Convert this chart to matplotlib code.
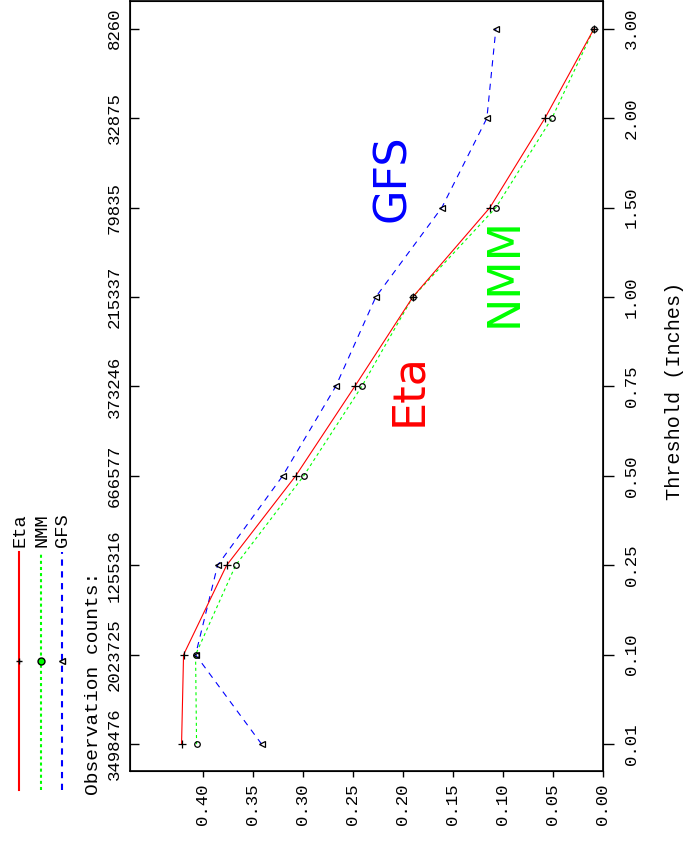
import matplotlib
matplotlib.use('Agg')
from matplotlib import pyplot as plt

plt.rcParams['lines.scale_dashes'] = False

umbrales = ['0.01', '0.10', '0.25', '0.50', '0.75', '1.00', '1.50', '2.00', '3.00']
conteos = ['3498476', '2023725', '1255316', '666577', '373246', '215337', '79835', '32875', '8260']
eta = [0.421, 0.419, 0.376, 0.307, 0.248, 0.190, 0.113, 0.058, 0.009]
nmm = [0.406, 0.407, 0.367, 0.299, 0.241, 0.190, 0.107, 0.051, 0.009]
gfs = [0.341, 0.407, 0.385, 0.320, 0.267, 0.227, 0.161, 0.116, 0.107]
valores_eje = [0.00, 0.05, 0.10, 0.15, 0.20, 0.25, 0.30, 0.35, 0.40]

MONO = 'Liberation Mono'
W, H = 684, 843
posiciones = list(range(len(umbrales)))

fig = plt.figure(figsize=(W / 100, H / 100), dpi=100)
fig.patch.set_facecolor('white')

# grafico girado: el umbral va en vertical y el valor en horizontal (invertido)
ax = fig.add_axes([130 / W, 1 - 771 / H, 473 / W, 770 / H])
ax.plot(eta, posiciones, color='#ff0000', lw=0.8, zorder=3)
ax.plot(nmm, posiciones, color='#00ff00', lw=0.8, ls=(0, (2.2, 2.2)), zorder=2)
ax.plot(gfs, posiciones, color='#0000ff', lw=0.8, ls=(0, (4.5, 4.0)), zorder=2)
ax.plot(eta, posiciones, ls='none', marker='+', ms=6, mew=0.9, color='black', zorder=4)
ax.plot(nmm, posiciones, ls='none', marker='o', ms=4, mew=0.9, mfc='none', mec='black', zorder=4)
ax.plot(gfs, posiciones, ls='none', marker='<', ms=4, mew=0.9, mfc='none', mec='black', zorder=4)

ax.set_xlim(0.4725, 0.0)
ax.set_ylim(-0.3, 8.31)
ax.set_xticks(valores_eje)
ax.set_xticklabels(['%.2f' % v for v in valores_eje], rotation=90, fontfamily=MONO, fontsize=12.5)
ax.tick_params(axis='x', direction='out', length=4.5, width=1, pad=4.3)
ax.set_yticks(posiciones)
ax.set_yticklabels(conteos, rotation=90, va='center', fontfamily=MONO, fontsize=12.5)
ax.tick_params(axis='y', direction='in', length=6.5, width=1, pad=6)
for lado in ax.spines.values():
    lado.set_linewidth(1.2)

ax2 = ax.twinx()
ax2.set_ylim(ax.get_ylim())
ax2.set_yticks(posiciones)
ax2.set_yticklabels(umbrales, rotation=90, va='center', fontfamily=MONO, fontsize=12.5)
ax2.tick_params(axis='y', direction='out', length=8, width=1, pad=7)

# nombres de los modelos junto a sus curvas
ax.text(0.210, 6.33, 'GFS', color='#0000ff', fontsize=32, rotation=90, ha='center', va='center')
ax.text(0.099, 5.28, 'NMM', color='#00ff00', fontsize=32, rotation=90, ha='center', va='center')
ax.text(0.194, 3.96, 'Eta', color='#ff0000', fontsize=32, rotation=90, ha='center', va='center')

# capa en pixeles para leyenda y titulos de ejes
capa = fig.add_axes([0, 0, 1, 1], facecolor='none')
capa.set_xlim(0, W)
capa.set_ylim(H, 0)
capa.axis('off')

leyenda = [('Eta', 19, '#ff0000', '-', '+', 'black'),
           ('NMM', 41, '#00ff00', (0, (2.2, 2.2)), 'o', '#00ff00'),
           ('GFS', 62, '#0000ff', (0, (4.5, 4.0)), '<', 'none')]
for nombre, xl, color, estilo, marca, relleno in leyenda:
    capa.plot([xl, xl], [790, 552], color=color, lw=1.5, ls=estilo)
    capa.plot([xl], [661], marker=marca, ms=5, mew=1, mfc=relleno, mec='black', color='black')
    capa.text(xl + 1, 547, nombre, rotation=90, ha='center', va='bottom', fontfamily=MONO, fontsize=13.5)

capa.text(93, 795, 'Observation counts:', rotation=90, ha='center', va='bottom', fontfamily=MONO, fontsize=14)
capa.text(675, 391, 'Threshold (Inches)', rotation=90, ha='center', va='center', fontfamily=MONO, fontsize=14.5)

fig.savefig('out.png', dpi=100)
